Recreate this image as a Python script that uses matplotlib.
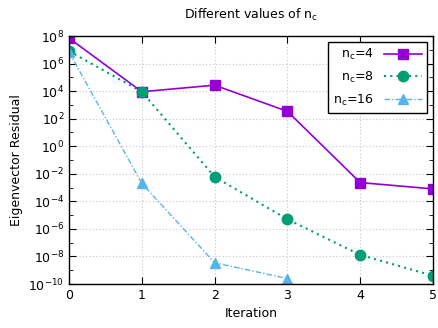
import numpy as np
import matplotlib.pyplot as plt
from matplotlib.ticker import NullFormatter, FixedLocator

plt.rcParams['mathtext.default'] = 'regular'
plt.rcParams['font.family'] = 'DejaVu Sans'

iterations = [0, 1, 2, 3, 4, 5]
res_nc4 = [7e7, 9e3, 2.7e4, 3.4e2, 2.3e-3, 8e-4]
res_nc8 = [8e6, 9e3, 6e-3, 5e-6, 1.3e-8, 4e-10]
res_nc16 = [7e6, 2e-3, 3.5e-9, 2.5e-10]

fig = plt.figure(figsize=(4.39, 3.28), dpi=100)
ax = fig.add_axes([69 / 439, 1 - 284 / 328, 364 / 439, 248 / 328])

ax.plot(iterations, res_nc4, color='#9400D3', linestyle='-', marker='s',
        markersize=7.5, linewidth=1.2, label='n$_c$=4')
ax.plot(iterations, res_nc8, color='#009E73', linestyle=(0, (1, 2)), marker='o',
        markersize=7.5, linewidth=1.5, label='n$_c$=8')
ax.plot(iterations[:len(res_nc16)], res_nc16, color='#56B4E9', linestyle=(0, (4, 1.5, 1, 1.5)),
        marker='^', markersize=7.5, linewidth=1.0, label='n$_c$=16')

ax.set_yscale('log')
ax.set_xlim(0, 5)
ax.set_ylim(1e-10, 1e8)
major = list(range(-10, 9, 2))
ax.yaxis.set_major_locator(FixedLocator([10.0 ** e for e in major]))
ax.set_yticklabels(['$10^{%d}$' % e for e in major])
ax.yaxis.set_minor_locator(FixedLocator([10.0 ** e for e in range(-9, 8, 2)]))
ax.yaxis.set_minor_formatter(NullFormatter())
ax.set_xticks(iterations)

ax.tick_params(which='both', direction='in', top=True, right=True, labelsize=9)
ax.tick_params(which='major', length=5)
ax.tick_params(which='minor', length=3)
ax.grid(True, which='major', color='#c8c8c8', linestyle=(0, (1, 2)), linewidth=0.8)
for s in ax.spines.values():
    s.set_linewidth(1.0)

ax.set_title('Different values of n$_c$', fontsize=9, pad=12)
ax.set_xlabel('Iteration', fontsize=9)
ax.set_ylabel('Eigenvector Residual', fontsize=9)

leg = ax.legend(loc='upper right', markerfirst=False, fontsize=9, handlelength=3,
                fancybox=False, framealpha=1, edgecolor='black', borderaxespad=0.5,
                labelspacing=0.6)
leg.get_frame().set_linewidth(1.0)

fig.savefig('out.png', dpi=100)
